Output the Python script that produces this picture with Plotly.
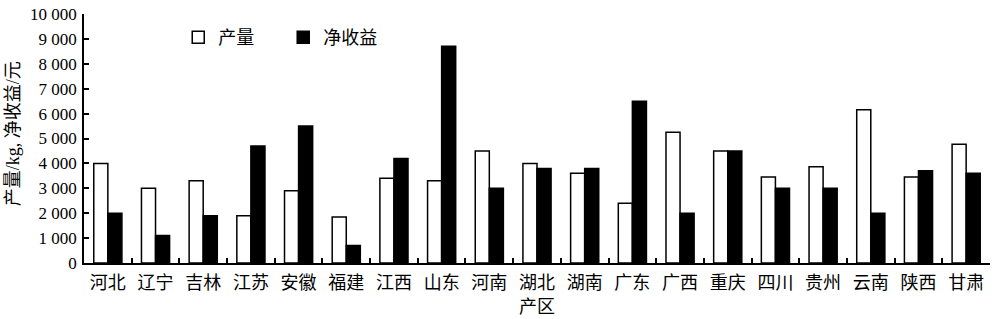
import plotly.graph_objects as go

regions = ["河北", "辽宁", "吉林", "江苏", "安徽", "福建", "江西", "山东", "河南", "湖北",
           "湖南", "广东", "广西", "重庆", "四川", "贵州", "云南", "陕西", "甘肃"]
yield_kg = [4000, 3000, 3300, 1900, 2900, 1850, 3400, 3300, 4500, 4000,
            3600, 2400, 5250, 4500, 3450, 3870, 6150, 3450, 4770]
net_income = [2000, 1100, 1900, 4700, 5500, 700, 4200, 8700, 3000, 3800,
              3800, 6500, 2000, 4500, 3000, 3000, 2000, 3700, 3600]
y_tickvals = [0, 1000, 2000, 3000, 4000, 5000, 6000, 7000, 8000, 9000, 10000]
y_ticktext = ["0", "1 000", "2 000", "3 000", "4 000", "5 000", "6 000", "7 000", "8 000", "9 000", "10 000"]

FONT = "'Liberation Serif', 'Times New Roman', 'Noto Sans CJK SC', serif"

fig = go.Figure()
fig.add_trace(go.Bar(x=regions, y=yield_kg, name="产量",
                     marker=dict(color="white", line=dict(color="black", width=1.5))))
fig.add_trace(go.Bar(x=regions, y=net_income, name="净收益",
                     marker=dict(color="black", line=dict(color="black", width=1.5))))

fig.update_layout(
    width=1000, height=319,
    margin=dict(l=84, r=10, t=14, b=56, autoexpand=False),
    plot_bgcolor="white", paper_bgcolor="white",
    barmode="group", bargap=0.41, bargroupgap=0,
    font=dict(family=FONT, size=17, color="black"),
    showlegend=True,
    legend=dict(orientation="h", x=0.104, y=0.905, xanchor="left", yanchor="middle",
                font=dict(size=18, family=FONT), bgcolor="rgba(0,0,0,0)",
                itemwidth=30, entrywidth=60, entrywidthmode="pixels", tracegroupgap=0),
    annotations=[
        dict(text="产区", xref="paper", yref="paper", x=0.5, y=-0.177,
             xanchor="center", yanchor="middle", showarrow=False,
             font=dict(size=18, family=FONT)),
        dict(text="产量/kg, 净收益/元", xref="paper", yref="paper", x=-0.078, y=0.518,
             xanchor="center", yanchor="middle", showarrow=False, textangle=-90,
             font=dict(size=18, family=FONT)),
    ],
)
fig.update_xaxes(
    automargin=False,
    showline=True, linecolor="black", linewidth=1.5,
    ticks="inside", ticklen=5, tickwidth=1.5, tickcolor="black",
    tickson="boundaries", ticklabelstandoff=3,
    tickfont=dict(size=18, family=FONT),
)
fig.update_yaxes(
    automargin=False,
    range=[0, 10000], tickvals=y_tickvals, ticktext=y_ticktext,
    showline=True, linecolor="black", linewidth=1.5,
    ticks="inside", ticklen=5, tickwidth=1.5, tickcolor="black",
    showgrid=False, zeroline=False, ticklabelstandoff=2,
    tickfont=dict(size=17, family=FONT),
)

fig.write_html("out.html")
